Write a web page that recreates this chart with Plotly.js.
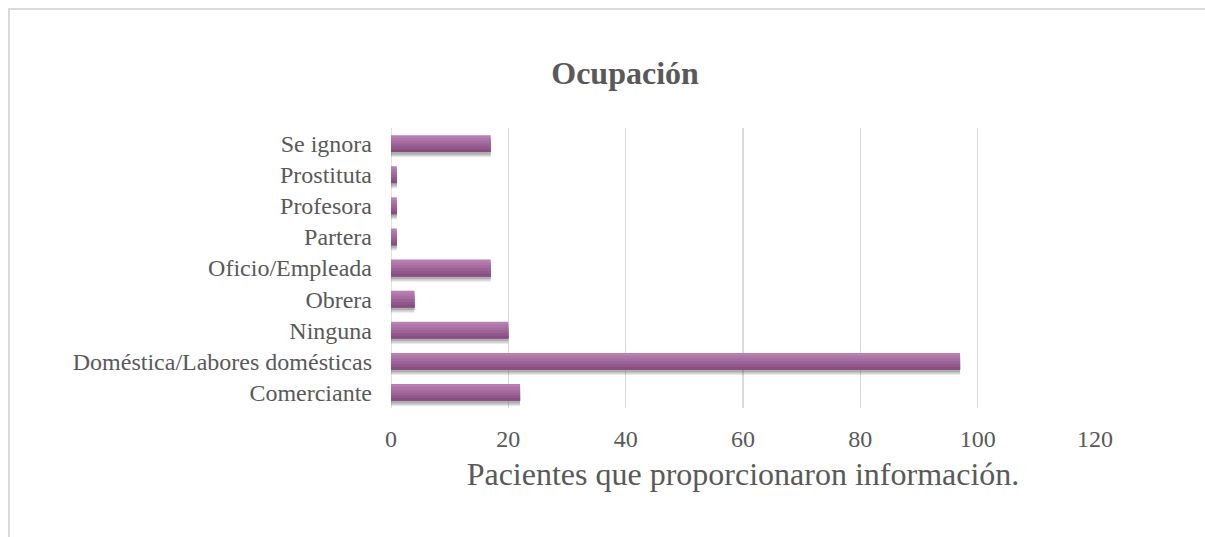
<!DOCTYPE html>
<html>
<head>
<meta charset="utf-8">
<script src="https://cdn.plot.ly/plotly-3.0.1.min.js"></script>
<style>
html,body{margin:0;padding:0;background:#fff;}
#frame{position:absolute;left:8px;top:8px;width:1197px;height:529px;border-left:2px solid #d9d9d9;border-top:2px solid #d9d9d9;box-sizing:border-box;pointer-events:none;}
#chart{position:absolute;left:0;top:0;width:1205px;height:537px;}
</style>
</head>
<body>
<div id="chart"></div>
<div id="frame"></div>
<script>
const categories = ["Comerciante","Doméstica/Labores domésticas","Ninguna","Obrera","Oficio/Empleada","Partera","Profesora","Prostituta","Se ignora"];
const values = [22, 97, 20, 4, 17, 1, 1, 1, 17];
const xTicks = [0, 20, 40, 60, 80, 100, 120];

const font = "'Liberation Serif', 'Times New Roman', serif";
const barWidth = 0.54;

// gradient strips (top light -> bottom dark)
const topCol = [184, 128, 178], botCol = [136, 78, 130];
const nStrips = 6;
const traces = [];
// soft shadow layers
[[0.17, 0.12], [0.13, 0.18], [0.08, 0.22]].forEach(([shift, a]) => {
  traces.push({
    type: "bar", orientation: "h", y: categories, x: values,
    width: barWidth, offset: -barWidth/2 - shift,
    marker: {color: `rgba(70,70,70,${a})`, line: {width: 0}},
    hoverinfo: "skip", showlegend: false
  });
});
const h = barWidth / nStrips;
for (let i = 0; i < nStrips; i++) {
  const t = i / (nStrips - 1);
  const c = topCol.map((v, k) => Math.round(v + (botCol[k] - v) * t));
  // each strip extends to the bottom of the bar, so later (darker) strips cover the lower part
  const w = barWidth - i * h;
  traces.push({
    type: "bar", orientation: "h", y: categories, x: values,
    width: w, offset: -barWidth/2,
    marker: {color: `rgb(${c.join(",")})`, line: {width: 0}},
    hoverinfo: "skip", showlegend: false
  });
}

const layout = {
  width: 1205, height: 537,
  paper_bgcolor: "#fff", plot_bgcolor: "#fff",
  margin: {l: 391, r: 110, t: 128, b: 129, pad: 0},
  barmode: "overlay",
  font: {family: font},
  title: {text: "<b>Ocupación</b>", x: 0.5187, xanchor: "center", y: 0.864, yanchor: "middle",
          font: {family: font, size: 32, color: "#595959"}},
  xaxis: {
    range: [0, 120], tickvals: xTicks, ticktext: xTicks.map(String),
    showgrid: true, gridcolor: "#d9d9d9", gridwidth: 1.5,
    zeroline: false, showline: false, ticks: "", ticklabelstandoff: 14,
    tickfont: {family: font, size: 24, color: "#595959"},
    title: {text: "Pacientes que proporcionaron información.", standoff: 11,
            font: {family: font, size: 32, color: "#595959"}}
  },
  yaxis: {
    type: "category", categoryorder: "array", categoryarray: categories,
    showgrid: false, zeroline: false, showline: false, ticks: "", ticklabelstandoff: 18,
    tickfont: {family: font, size: 24, color: "#595959"}
  },
  shapes: [{type: "line", xref: "x", yref: "paper", x0: 0, x1: 0, y0: 0, y1: 1,
            line: {color: "#d9d9d9", width: 1.5}, layer: "below"}]
};

Plotly.newPlot("chart", traces, layout, {displayModeBar: false, staticPlot: true});
</script>
</body>
</html>
